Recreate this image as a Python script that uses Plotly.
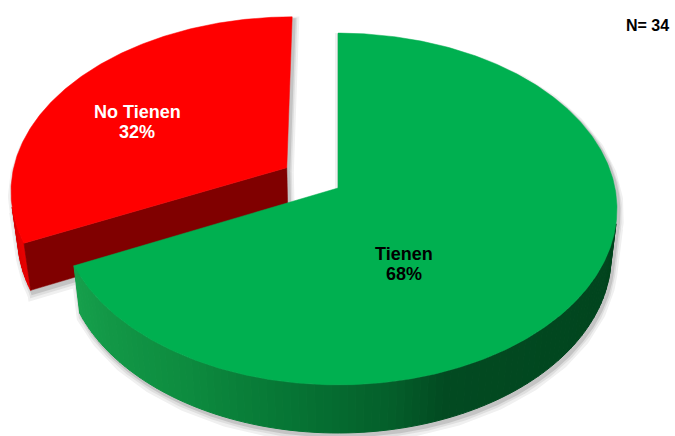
import numpy as np
import plotly.graph_objects as go

# ---------------- data ----------------
categories = ["Tienen", "No Tienen"]
values = [68, 32]
n_total = 34

# ---------------- style / layout ----------------
W, H = 675, 436
CX, CY = 338, 188          # projected pie centre (px)
KR = 277                   # projected radius scale (px)
SIN_TILT = 0.626
COS_TILT = float(np.sqrt(1 - SIN_TILT ** 2))
R_OVER_D = 0.153           # perspective strength
THICK = 0.22               # pie thickness (in radii)
EXPLODE = [0.0, 0.222]     # explode distance per slice (in radii)

top_colors = ["#00B050", "#FF0000"]
cut_colors = ["#005a22", "#800000"]
side_stops = [
    [(90, (0, 66, 28)), (160, (2, 74, 33)), (170, (4, 94, 42)), (188, (6, 116, 52)),
     (210, (13, 140, 63)), (245, (22, 160, 76))],
    [(240, (240, 0, 0)), (270, (205, 0, 0)), (360, (190, 0, 0))],
]
label_colors = ["black", "white"]
label_pos = [(404, 254), (137, 112)]   # px centre of first line
FONT = "Liberation Sans, Arial, sans-serif"


def proj(X, Z, Y):
    X = np.asarray(X, float); Z = np.asarray(Z, float); Y = np.asarray(Y, float)
    depth = 1 - R_OVER_D * (Y * SIN_TILT + Z * COS_TILT)
    px = CX + KR * X / depth
    py = CY - KR * (Y * COS_TILT - Z * SIN_TILT) / depth
    return px, py


def interp_color(stops, tdeg):
    ts = [s[0] for s in stops]
    rgb = [np.interp(tdeg, ts, [s[1][k] for s in stops]) for k in range(3)]
    return "rgb(%d,%d,%d)" % tuple(int(round(c)) for c in rgb)


total = float(sum(values))
cum = np.concatenate([[0], np.cumsum(values)]) / total * 2 * np.pi
cam = np.array([0, SIN_TILT / R_OVER_D, COS_TILT / R_OVER_D])

slices = []
for i, v in enumerate(values):
    t0, t1 = cum[i], cum[i + 1]
    tm = (t0 + t1) / 2
    ex, ez = EXPLODE[i] * np.sin(tm), -EXPLODE[i] * np.cos(tm)
    ts = np.linspace(t0, t1, int(np.degrees(t1 - t0)) * 2 + 2)
    ax_top = proj([ex], [ez], [0])
    ax_bot = proj([ex], [ez], [-THICK])
    topx, topy = proj(ex + np.sin(ts), ez - np.cos(ts), np.zeros_like(ts))
    botx, boty = proj(ex + np.sin(ts), ez - np.cos(ts), -THICK * np.ones_like(ts))
    vis = []
    for t in ts:
        P = np.array([ex + np.sin(t), 0, ez - np.cos(t)])
        n = np.array([np.sin(t), 0, -np.cos(t)])
        vis.append(np.dot(cam - P, n) > 0)
    vis = np.array(vis)
    cuts = []
    for tt, sgn in ((t0, -1), (t1, 1)):
        n = np.array([sgn * np.cos(tt), 0, sgn * np.sin(tt)])
        P = np.array([ex, 0, ez])
        if np.dot(cam - P, n) > 1.0:
            ex2, ey2 = proj([ex, ex + np.sin(tt), ex + np.sin(tt), ex],
                            [ez, ez - np.cos(tt), ez - np.cos(tt), ez],
                            [0, 0, -THICK, -THICK])
            cuts.append((ex2, ey2))
    slices.append(dict(ts=ts, topx=topx, topy=topy, botx=botx, boty=boty, vis=vis,
                       ax_top=ax_top, ax_bot=ax_bot, cuts=cuts))

fig = go.Figure()


def poly(x, y, fill, line_color=None, lw=0.0, dx=0.0, dy=0.0):
    x = np.append(np.asarray(x) + dx, np.asarray(x)[0] + dx)
    y = np.append(np.asarray(y) + dy, np.asarray(y)[0] + dy)
    fig.add_trace(go.Scatter(x=x, y=y, mode="lines", fill="toself", fillcolor=fill,
                             line=dict(color=line_color or fill, width=lw),
                             hoverinfo="skip", showlegend=False))


def slice_faces(s):
    faces = []
    faces.append((np.concatenate([s["ax_top"][0], s["topx"]]),
                  np.concatenate([s["ax_top"][1], s["topy"]])))
    idx = np.where(s["vis"])[0]
    if len(idx) > 1:
        faces.append((np.concatenate([s["topx"][idx], s["botx"][idx][::-1]]),
                      np.concatenate([s["topy"][idx], s["boty"][idx][::-1]])))
    for c in s["cuts"]:
        faces.append(c)
    return faces


# soft drop shadow (opaque greys so overlaps don't stack)
for col, lw, dx, dy in (("#f0f0f0", 10, 2, 5), ("#dedede", 6, 2, 4), ("#c4c4c4", 3, 2, 3)):
    for s in slices[::-1]:
        for fx, fy in slice_faces(s):
            poly(fx, fy, col, col, lw, dx, dy)

# draw slices back (red) to front (green)
for i in [1, 0]:
    s = slices[i]
    idx = np.where(s["vis"])[0]
    if len(idx) > 1:
        step = 3
        for a in range(0, len(idx) - 1, step):
            seg = idx[a:a + step + 1]
            if len(seg) < 2:
                continue
            col = interp_color(side_stops[i], np.degrees(s["ts"][seg].mean()))
            poly(np.concatenate([s["topx"][seg], s["botx"][seg][::-1]]),
                 np.concatenate([s["topy"][seg], s["boty"][seg][::-1]]), col, col, 1)
    for cx_, cy_ in s["cuts"]:
        poly(cx_, cy_, cut_colors[i], cut_colors[i], 0.5)
    poly(np.concatenate([s["ax_top"][0], s["topx"]]),
         np.concatenate([s["ax_top"][1], s["topy"]]), top_colors[i], top_colors[i], 0.5)

annotations = []
for i, cat in enumerate(categories):
    pct = round(100 * values[i] / total)
    lx, ly = label_pos[i]
    for k, txt in enumerate([cat, f"{pct}%"]):
        annotations.append(dict(x=lx, y=ly + 20 * k, xref="x", yref="y", text=f"<b>{txt}</b>",
                                showarrow=False, xanchor="center", yanchor="middle",
                                font=dict(family=FONT, size=18, color=label_colors[i])))
annotations.append(dict(x=671, y=25, xref="x", yref="y", text=f"<b>N= {n_total}</b>",
                        showarrow=False, xanchor="right", yanchor="middle",
                        font=dict(family=FONT, size=16, color="black")))

fig.update_layout(
    width=W, height=H, margin=dict(l=0, r=0, t=0, b=0),
    paper_bgcolor="white", plot_bgcolor="white",
    xaxis=dict(range=[0, W], visible=False, fixedrange=True),
    yaxis=dict(range=[H, 0], visible=False, fixedrange=True),
    annotations=annotations, showlegend=False,
)
fig.write_html("out.html", config={"displayModeBar": False},
               post_script="document.body.style.margin='0';document.body.style.overflow='hidden';")
